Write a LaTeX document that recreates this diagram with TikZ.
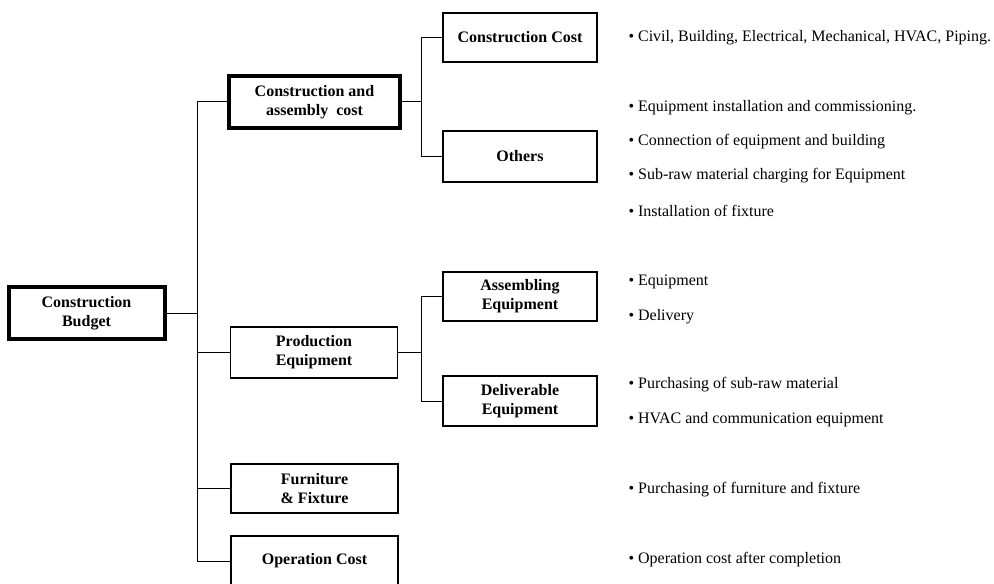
\documentclass[tikz,border=0pt]{standalone}
\usepackage{fontspec}
\setmainfont{Liberation Serif}
\usetikzlibrary{positioning}

\begin{document}
\begin{tikzpicture}[x=0.5pt,y=-0.5pt,
    box/.style={draw,line width=0.7pt,align=center,inner sep=0pt,
        font=\bfseries\fontsize{8}{9.5}\selectfont},
    thickbox/.style={box,line width=2pt},
    item/.style={anchor=west,inner sep=0pt,font=\fontsize{8}{9.5}\selectfont},
    line width=0.5pt]

    \useasboundingbox (0,0) rectangle (994,583);

    % boxes (sizes in pt, positions in px)
    \node[thickbox,minimum width=78pt,minimum height=26pt] (root) at (86.5,313) {Construction\\Budget};
    \node[thickbox,minimum width=85.5pt,minimum height=26pt] (cac) at (314.5,102) {Construction and\\assembly~~cost};
    \node[box,minimum width=83.5pt,minimum height=25.5pt] (pe) at (314,352.5) {Production\\Equipment};
    \node[box,minimum width=83.5pt,minimum height=24.5pt] (ff) at (314.5,488.5) {Furniture\\\& Fixture};
    \node[box,minimum width=83.5pt,minimum height=25pt] (opc) at (314.5,561) {Operation Cost};

    \node[box,minimum width=77pt,minimum height=24.5pt] (cc) at (520,37.5) {Construction Cost};
    \node[box,minimum width=77pt,minimum height=25.5pt] (oth) at (520,156.5) {Others};
    \node[box,minimum width=77pt,minimum height=24.5pt] (ae) at (520,296.5) {Assembling\\Equipment};
    \node[box,minimum width=77pt,minimum height=25pt] (de) at (520,401) {Deliverable\\Equipment};

    % connectors
    \coordinate (trunk) at (197,0);
    \draw (root.east) -- (root.east -| trunk);
    \draw (cac.west) -- (cac.west -| trunk) -- (opc.west -| trunk) -- (opc.west);
    \draw (pe.west) -- (pe.west -| trunk);
    \draw (ff.west) -- (ff.west -| trunk);

    \def\offset{421}
    \coordinate (sub) at (\offset,0);
    \draw (cac.east) -- (cac.east -| sub);
    \draw (cc.west) -- (cc.west -| sub) -- (oth.west -| sub) -- (oth.west);
    \draw (pe.east) -- (pe.east -| sub);
    \draw (ae.west) -- (ae.west -| sub) -- (de.west -| sub) -- (de.west);

    % descriptions
    \foreach \n/\y/\t in {
        1/37.5/{Civil, Building, Electrical, Mechanical, HVAC, Piping.},
        2/108/{Equipment installation and commissioning.},
        3/142/{Connection of equipment and building},
        4/176/{Sub-raw material charging for Equipment},
        5/211/{Installation of fixture},
        6/282/{Equipment},
        7/317/{Delivery},
        8/385/{Purchasing of sub-raw material},
        9/420/{HVAC and communication equipment},
        10/490/{Purchasing of furniture and fixture},
        11/560/{Operation cost after completion}}
        \node[item] (txt\n) at (628,\y) {\textbullet\ \t};

\end{tikzpicture}
\end{document}
